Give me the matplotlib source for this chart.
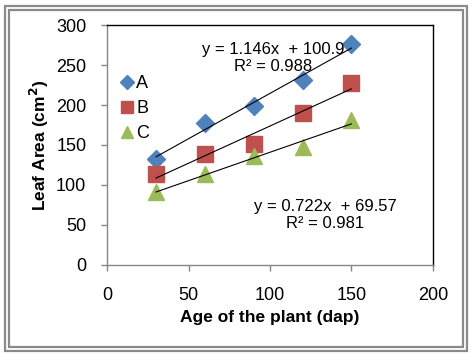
import numpy as np
import matplotlib
matplotlib.use("Agg")
import matplotlib.pyplot as plt
from matplotlib.patches import Rectangle

plt.rcParams['font.family'] = ['Liberation Sans', 'DejaVu Sans']

# dados
idade = [30, 60, 90, 120, 150]
serie_a = [133, 177, 199, 231, 276]
serie_b = [114, 139, 151, 190, 228]
serie_c = [91, 114, 136, 147, 181]
nomes = ["A", "B", "C"]
cores = ["#4F81BD", "#C0504D", "#9BBB59"]
marcadores = ["D", "s", "^"]
tamanhos = [9, 11, 12]
eq_a = "y = 1.146x  + 100.9\nR² = 0.988"
eq_c = "y = 0.722x  + 69.57\nR² = 0.981"

fig = plt.figure(figsize=(4.72, 3.58), dpi=100)
ax = fig.add_axes([0.227, 0.26, 0.69, 0.67])

# moldura dupla cinza
fig.patches.append(Rectangle((5 / 472, 7 / 358), 462 / 472, 345 / 358, transform=fig.transFigure,
                             fill=False, edgecolor="#8a8a8a", lw=1.6))
fig.patches.append(Rectangle((9 / 472, 11 / 358), 454 / 472, 337 / 358, transform=fig.transFigure,
                             fill=False, edgecolor="#8a8a8a", lw=1.6))

for ys, nome, cor, m, ms in zip([serie_a, serie_b, serie_c], nomes, cores, marcadores, tamanhos):
    ax.plot(idade, ys, linestyle="none", marker=m, color=cor, markersize=ms, label=nome, zorder=2)
    # linha de tendencia
    a, b = np.polyfit(idade, ys, 1)
    xs = np.array([idade[0], idade[-1]])
    ax.plot(xs, a * xs + b, color="black", lw=0.8, zorder=3)

ax.set_xlim(0, 200)
ax.set_ylim(0, 300)
ax.set_xticks([0, 50, 100, 150, 200])
ax.set_yticks([0, 50, 100, 150, 200, 250, 300])
ax.tick_params(labelsize=13, colors="#868686", length=4, width=1)
for lbl in ax.get_xticklabels() + ax.get_yticklabels():
    lbl.set_color("black")
ax.tick_params(axis="x", pad=12)
ax.tick_params(axis="y", pad=11)
ax.spines["left"].set_color("#868686")
ax.spines["bottom"].set_color("#868686")
ax.spines["top"].set_color("black")
ax.spines["right"].set_color("black")
for s in ax.spines.values():
    s.set_linewidth(1)

ax.set_xlabel("Age of the plant (dap)", fontsize=12.5, fontweight="bold", labelpad=4)
ax.set_ylabel("Leaf Area (cm$\\mathbf{^2}$)", fontsize=12.5, fontweight="bold", labelpad=4)

ax.text(0.51, 0.8625, eq_a, transform=ax.transAxes, ha="center", va="center", fontsize=12,
        linespacing=1.2)
ax.text(0.67, 0.208, eq_c, transform=ax.transAxes, ha="center", va="center", fontsize=12,
        linespacing=1.2)

leg = ax.legend(loc="upper left", bbox_to_anchor=(-0.005, 0.86), frameon=False, fontsize=13,
                handlelength=0.6, handletextpad=0.2, labelspacing=0.45, markerscale=0.75)

plt.savefig("out.png", dpi=100)
